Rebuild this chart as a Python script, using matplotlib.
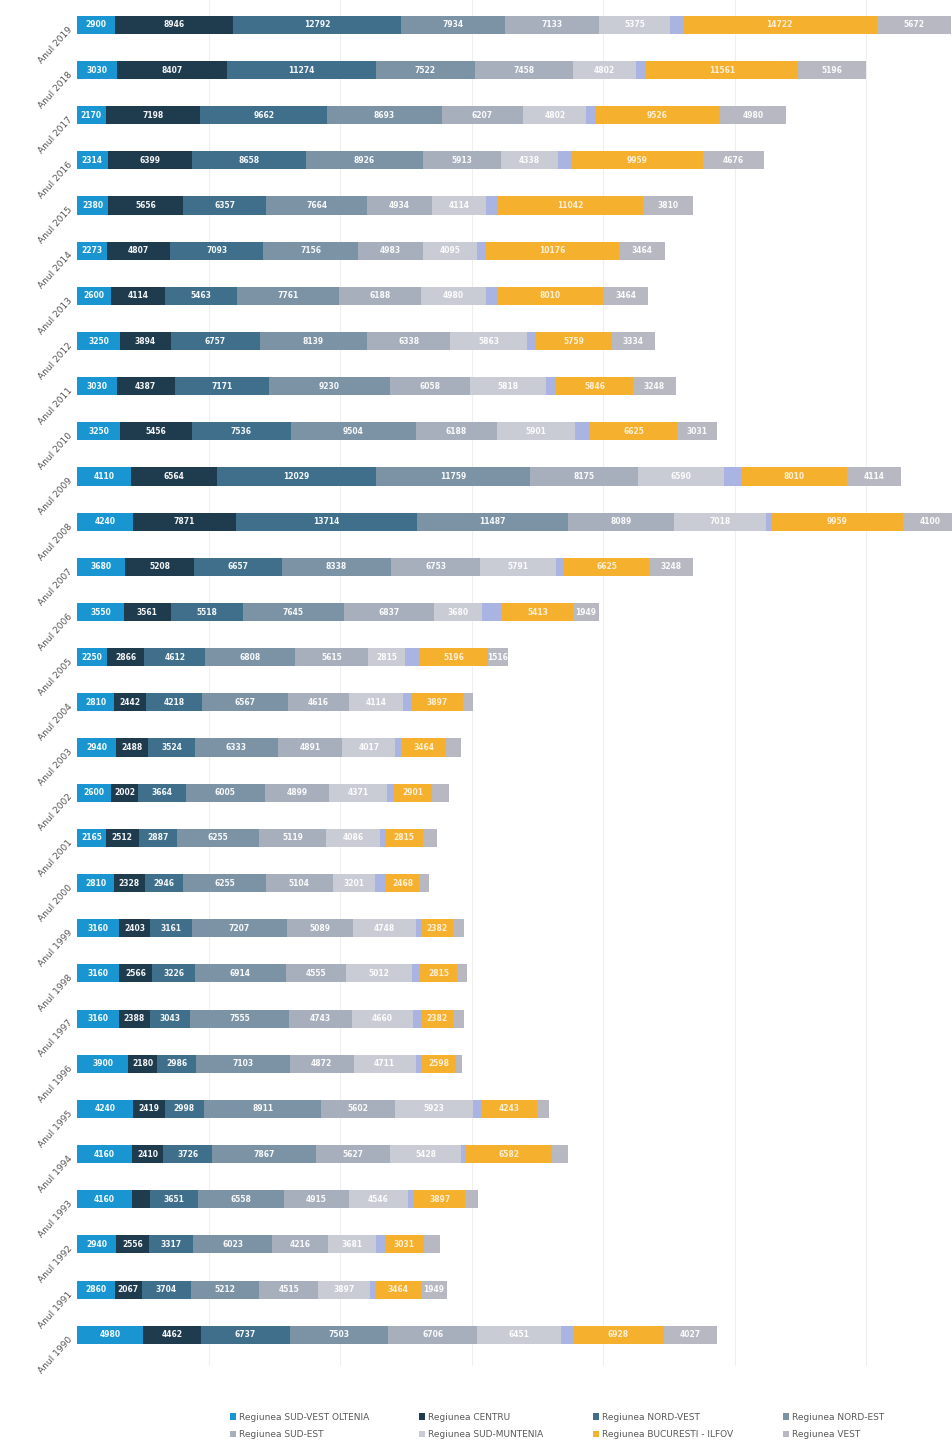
import numpy as np
import matplotlib
matplotlib.use("Agg")
import matplotlib.pyplot as plt

# years, top to bottom as in the chart
ani = [f"Anul {a}" for a in range(2019, 1989, -1)]

sud_vest_oltenia = [2900, 3030, 2170, 2314, 2380, 2273, 2600, 3250, 3030, 3250,
                    4110, 4240, 3680, 3550, 2250, 2810, 2940, 2600, 2165, 2810,
                    3160, 3160, 3160, 3900, 4240, 4160, 4160, 2940, 2860, 4980]
centru = [8946, 8407, 7198, 6399, 5656, 4807, 4114, 3894, 4387, 5456,
          6564, 7871, 5208, 3561, 2866, 2442, 2488, 2002, 2512, 2328,
          2403, 2566, 2388, 2180, 2419, 2410, 1364, 2556, 2067, 4462]
nord_vest = [12792, 11274, 9662, 8658, 6357, 7093, 5463, 6757, 7171, 7536,
             12029, 13714, 6657, 5518, 4612, 4218, 3524, 3664, 2887, 2946,
             3161, 3226, 3043, 2986, 2998, 3726, 3651, 3317, 3704, 6737]
nord_est = [7934, 7522, 8693, 8926, 7664, 7156, 7761, 8139, 9230, 9504,
            11759, 11487, 8338, 7645, 6808, 6567, 6333, 6005, 6255, 6255,
            7207, 6914, 7555, 7103, 8911, 7867, 6558, 6023, 5212, 7503]
sud_est = [7133, 7458, 6207, 5913, 4934, 4983, 6188, 6338, 6058, 6188,
           8175, 8089, 6753, 6837, 5615, 4616, 4891, 4899, 5119, 5104,
           5089, 4555, 4743, 4872, 5602, 5627, 4915, 4216, 4515, 6706]
sud_muntenia = [5375, 4802, 4802, 4338, 4114, 4095, 4980, 5863, 5818, 5901,
                6590, 7018, 5791, 3680, 2815, 4114, 4017, 4371, 4086, 3201,
                4748, 5012, 4660, 4711, 5923, 5428, 4546, 3681, 3897, 6451]
nedefinit = [996, 780, 650, 1083, 866, 650, 866, 650, 736, 1169,
             1299, 430, 520, 1515, 1083, 650, 433, 563, 433, 866,
             433, 650, 650, 433, 650, 346, 433, 650, 433, 866]
bucuresti_ilfov = [14722, 11561, 9526, 9959, 11042, 10176, 8010, 5759, 5846, 6625,
                   8010, 9959, 6625, 5413, 5196, 3897, 3464, 2901, 2815, 2468,
                   2382, 2815, 2382, 2598, 4243, 6582, 3897, 3031, 3464, 6928]
vest = [5672, 5196, 4980, 4676, 3810, 3464, 3464, 3334, 3248, 3031,
        4114, 4100, 3248, 1949, 1516, 779, 1083, 1299, 1083, 779,
        866, 779, 866, 520, 866, 1212, 996, 1212, 1949, 4027]

serii = [
    ("Regiunea SUD-VEST OLTENIA", sud_vest_oltenia, "#1996d2"),
    ("Regiunea CENTRU", centru, "#1f3b4e"),
    ("Regiunea NORD-VEST", nord_vest, "#3f6f8b"),
    ("Regiunea NORD-EST", nord_est, "#7b93a5"),
    ("Regiunea SUD-EST", sud_est, "#a7afbc"),
    ("Regiunea SUD-MUNTENIA", sud_muntenia, "#c9cbd5"),
    ("_nolegend_", nedefinit, "#aab4e2"),
    ("Regiunea BUCURESTI - ILFOV", bucuresti_ilfov, "#f5b02e"),
    ("Regiunea VEST", vest, "#b7b8c1"),
]

fig = plt.figure(figsize=(9.52, 14.52), dpi=100)
ax = fig.add_axes([0.081, 0.059, 0.919, 0.941])

y = np.arange(len(ani))
left = np.zeros(len(ani))
handles = {}
for nume, valori, culoare in serii:
    valori = np.array(valori, dtype=float)
    bars = ax.barh(y, valori, left=left, height=0.4, color=culoare,
                   edgecolor="none", label=nume, zorder=2)
    handles[nume] = bars
    if nume != "_nolegend_":
        for yi, l, v in zip(y, left, valori):
            if v >= 1500:
                ax.text(l + v / 2, yi, f"{int(v)}", ha="center", va="center",
                        color="white", fontsize=5.5, fontweight="bold",
                        family=["Liberation Sans Narrow", "DejaVu Sans"],
                        alpha=0.8 if culoare == "#f5b02e" else 0.95, zorder=3)
    left = left + valori

ax.set_xlim(0, 66540)
ax.set_ylim(29.7, -0.55)
ax.set_xticks(np.arange(10000, 66000, 10000))
ax.xaxis.grid(True, color="#efefef", lw=0.8, zorder=0)
ax.tick_params(axis="x", length=0, labelbottom=False)
ax.set_yticks(y)
ax.set_yticklabels(ani, rotation=48, ha="right", va="top",
                   rotation_mode="anchor", fontsize=6.5, color="#555555")
ax.tick_params(axis="y", length=0, pad=7)
for s in ax.spines.values():
    s.set_visible(False)

ordine = ["Regiunea SUD-VEST OLTENIA", "Regiunea SUD-EST",
          "Regiunea CENTRU", "Regiunea SUD-MUNTENIA",
          "Regiunea NORD-VEST", "Regiunea BUCURESTI - ILFOV",
          "Regiunea NORD-EST", "Regiunea VEST"]
leg = fig.legend([handles[n] for n in ordine], ordine, loc="center",
                 bbox_to_anchor=(0.585, 0.018), ncol=4, frameon=False,
                 fontsize=6.5, handlelength=0.7, handleheight=0.7,
                 handletextpad=0.3, columnspacing=5.5, labelspacing=0.9)
for t in leg.get_texts():
    t.set_color("#595959")

fig.savefig("out.png", dpi=100, facecolor="white")
